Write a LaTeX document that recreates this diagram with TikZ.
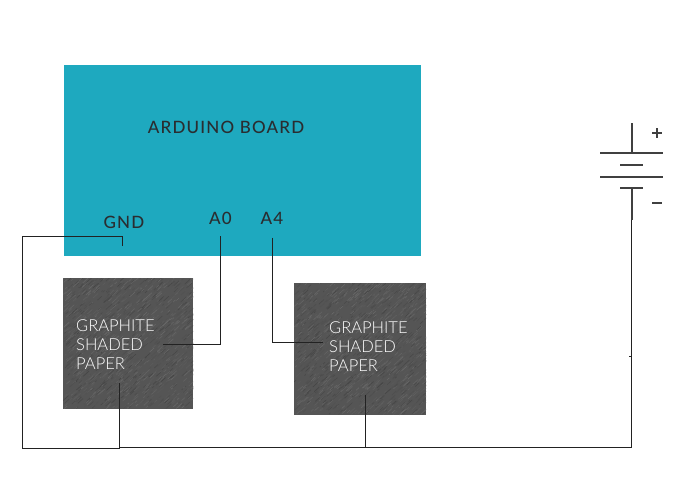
\documentclass[tikz,border=0pt]{standalone}
\usepackage{fontspec}
\setmainfont{Lato}
\newfontfamily\lbl[LetterSpace=7]{Lato Medium}
\newfontfamily\pap{Lato Light}
\usetikzlibrary{calc}
\definecolor{board}{HTML}{1EA9BF}
\definecolor{wire}{HTML}{222222}
\definecolor{ink}{HTML}{2A2D30}
\definecolor{pbase}{HTML}{555555}
\definecolor{tdark}{HTML}{454545}
\definecolor{tlight}{HTML}{696969}
\newcommand{\papertex}[2]{%
  \begin{scope}
    \clip (#1.south west) rectangle (#1.north east);
    \pgfmathsetseed{#2}
    \foreach \i in {1,...,1500}{
      \pgfmathsetmacro{\xa}{rnd}\pgfmathsetmacro{\ya}{rnd}\pgfmathsetmacro{\ll}{2+rnd*6}\pgfmathsetmacro{\gg}{rnd}
      \pgfmathsetmacro{\sh}{int(\gg*100)}
      \path let \p1=(#1.south west), \p2=(#1.north east) in
        coordinate (tt) at ({\x1+\xa*(\x2-\x1)},{\y1+\ya*(\y2-\y1)});
      \draw[line width=0.6pt,color=tdark!\sh!tlight] (tt) -- ++(42:\ll pt);
    }
  \end{scope}}
\tikzset{
  wireline/.style={draw=wire,line width=0.8pt},
  batline/.style={draw=black!75,line width=2pt},
  boardbox/.style={fill=board,draw=none,inner sep=0,outer sep=0,minimum width=357pt,minimum height=191pt},
  paperbox/.style={fill=pbase,draw=none,inner sep=0,outer sep=0},
  pinlabel/.style={text=ink,font=\lbl\fontsize{17}{20}\selectfont,inner sep=0},
  paperlabel/.style={text=white,font=\pap\fontsize{16.5}{19.3}\selectfont,align=left,inner sep=0,anchor=west},
}
\begin{document}
\begin{tikzpicture}[x=1pt,y=-1pt]
\useasboundingbox[fill=white] (0,0) rectangle (692,487);
\node[boardbox] (board) at (242.5,160.5) {};
\node[paperbox,minimum width=130pt,minimum height=131pt] (p1) at (128,343.5) {};
\node[paperbox,minimum width=132pt,minimum height=132pt] (p2) at (360,349) {};
\papertex{p1}{11}
\papertex{p2}{23}
\node[pinlabel] (title) at (226,127) {ARDUINO BOARD};
\node[pinlabel] (gnd) at (124,222) {GND};
\node[pinlabel] (a0) at (220.5,218) {A0};
\node[pinlabel] (a4) at (272,218) {A4};
\node[paperlabel] (t1) at (76,344.5) {GRAPHITE\\SHADED\\PAPER};
\node[paperlabel] (t2) at (329,346.5) {GRAPHITE\\SHADED\\PAPER};
% terminals and junctions
\coordinate (gA) at (122.5,246);
\coordinate (gB) at (122.5,236.5);
\coordinate (gC) at (22.5,236.5);
\coordinate (gD) at (22.5,448);
\coordinate (gE) at (119.5,448);
\coordinate (gF) at (119.5,383);
\coordinate (bus1) at (119.5,447);
\coordinate (bus2) at (365.5,447);
\coordinate (bus3) at (631.5,447);
\coordinate (batB) at (631.5,220);
\coordinate (pin2) at (365.5,395);
\coordinate (tickA) at (629,356);
\coordinate (tickB) at (631.5,356);
\coordinate (a0A) at (220.5,236);
\coordinate (a0B) at (220.5,344.5);
\coordinate (a0C) at (163,344.5);
\coordinate (a4A) at (272.5,237.5);
\coordinate (a4B) at (272.5,342.5);
\coordinate (a4C) at (323,342.5);
\draw[wireline] (gA) -- (gB) -- (gC) -- (gD) -- (gE) -- (gF);
\draw[wireline] (bus1) -- (bus3) -- (batB);
\draw[wireline] (pin2) -- (bus2);
\draw[wireline] (tickA) -- (tickB);
\draw[wireline] (a0A) -- (a0B) -- (a0C);
\draw[wireline] (a4A) -- (a4B) -- (a4C);
% battery
\coordinate (b0) at (631.5,123);
\coordinate (b1) at (631.5,153);
\coordinate (b1l) at (600,153);
\coordinate (b1r) at (663,153);
\coordinate (b2l) at (620,165);
\coordinate (b2r) at (643,165);
\coordinate (b3l) at (600,176.5);
\coordinate (b3r) at (663,176.5);
\coordinate (b4l) at (620,188);
\coordinate (b4r) at (643,188);
\coordinate (b4) at (631.5,188);
\draw[batline] (b0) -- (b1);
\draw[batline] (b1l) -- (b1r);
\draw[batline] (b2l) -- (b2r);
\draw[batline] (b3l) -- (b3r);
\draw[batline] (b4l) -- (b4r);
\draw[batline] (b4) -- (batB);
\coordinate (plusC) at (657,133);
\coordinate (minusC) at (657,203);
\draw[batline] ($(plusC)+(-5,0)$) -- ($(plusC)+(5,0)$);
\draw[batline] ($(plusC)+(0,-5)$) -- ($(plusC)+(0,5)$);
\draw[batline] ($(minusC)+(-5,0)$) -- ($(minusC)+(5,0)$);
\end{tikzpicture}
\end{document}
